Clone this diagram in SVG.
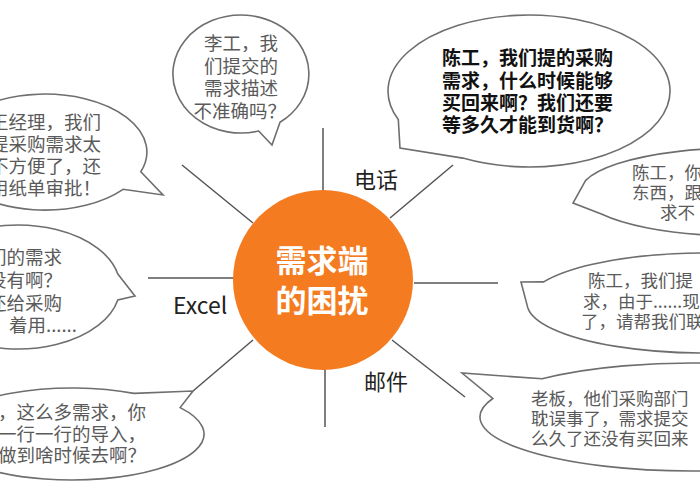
<svg xmlns="http://www.w3.org/2000/svg" width="700" height="500" viewBox="0 0 700 500">
<style>
.bubble{fill:#fff;stroke:#6e6e6e;stroke-width:1.6;stroke-linejoin:miter}
.t{font-family:"Noto Sans CJK SC","Liberation Sans",sans-serif;font-size:18.5px;fill:#5a5a5a}
.ts{font-family:"Noto Sans CJK SC","Liberation Sans",sans-serif;font-size:17.5px;fill:#5a5a5a}
.tb{font-family:"Noto Sans CJK SC","Liberation Sans",sans-serif;font-size:19px;font-weight:bold;fill:#111}
.lbl{font-family:"Noto Sans CJK SC","Liberation Sans",sans-serif;font-size:22px;fill:#222}
.ctr{font-family:"Noto Sans CJK SC","Liberation Sans",sans-serif;font-size:31px;font-weight:bold;fill:#fff}
.con line{stroke:#555;stroke-width:1.5}
</style>
<rect width="700" height="500" fill="#fff"/>
<g id="connectors" class="con">
<line x1="323" y1="128" x2="323" y2="193"/>
<line x1="182" y1="165" x2="253" y2="223"/>
<line x1="453" y1="165" x2="390" y2="218"/>
<line x1="148" y1="278" x2="234" y2="278"/>
<line x1="193" y1="391" x2="253" y2="340"/>
<line x1="325" y1="367" x2="325" y2="427"/>
<line x1="414" y1="283" x2="498" y2="283"/>
<line x1="392" y1="340" x2="465" y2="397"/>
</g>
<g id="center">
<circle cx="323" cy="280" r="90" fill="#F47B20"/>
<text class="ctr" x="322" y="272" text-anchor="middle">需求端</text>
<text class="ctr" x="322" y="312" text-anchor="middle">的困扰</text>
</g>
<g id="label-phone"><text class="lbl" x="354" y="188">电话</text></g>
<g id="label-excel"><text class="lbl" x="173" y="314" style="font-size:23px">Excel</text></g>
<g id="label-mail"><text class="lbl" x="364" y="390">邮件</text></g>
<g id="bubble-li">
<path class="bubble" d="M258.6,131 L272,145 L280,122.3 A68 59 0 1 0 258.6,131 Z"/>
<text class="t" text-anchor="end"><tspan x="278" y="50">李工，我</tspan><tspan x="278" y="72.5">们提交的</tspan><tspan x="278" y="95">需求描述</tspan><tspan x="286" y="117.5">不准确吗？</tspan></text>
</g>
<g id="bubble-wang">
<path class="bubble" d="M140.8,171.8 L163,195 L123.1,189.3 A102 58 0 1 1 140.8,171.8 Z"/>
<text class="t" text-anchor="end"><tspan x="101" y="129">王经理，我们</tspan><tspan x="101" y="151">提采购需求太</tspan><tspan x="101" y="173">不方便了，还</tspan><tspan x="101" y="195">用纸单审批！</tspan></text>
</g>
<g id="bubble-excel1">
<path class="bubble" d="M117.8,274.1 L135,296 L117.8,299.9 A102 62 0 1 1 117.8,274.1 Z"/>
<text class="t"><tspan x="-12" y="264">们的需求</tspan><tspan x="-12" y="287">没有啊？</tspan><tspan x="-12" y="310">还给采购</tspan><tspan x="9" y="332">着用......</tspan></text>
</g>
<g id="bubble-excel2">
<path class="bubble" d="M134,393.4 L193,391 L180.1,407.6 A132 46 0 1 1 134,393.4 Z"/>
<text class="t" text-anchor="end"><tspan x="146" y="419">，这么多需求，你</tspan><tspan x="146" y="440.5">一行一行的导入，</tspan><tspan x="146" y="462">做到啥时候去啊？</tspan></text>
</g>
<g id="bubble-chen1">
<path class="bubble" d="M462.8,158.1 L400,148 L398.3,119.5 A141 76 0 1 1 462.8,158.1 Z"/>
<text class="tb"><tspan x="442" y="65">陈工，我们提的采购</tspan><tspan x="442" y="88">需求，什么时候能够</tspan><tspan x="442" y="110">买回来啊？我们还要</tspan><tspan x="442" y="132">等多久才能到货啊？</tspan></text>
</g>
<g id="bubble-chen2">
<path class="bubble" d="M585.5,180.6 L573,203 L601.4,214 A160 44 0 1 0 585.5,180.6 Z"/>
<text class="ts"><tspan x="632" y="179">陈工，你</tspan><tspan x="632" y="199">东西，跟</tspan><tspan x="660" y="219">求不</tspan></text>
</g>
<g id="bubble-chen3">
<path class="bubble" d="M543.7,281.9 L521,282 L527.7,307.4 A178 50 0 1 0 543.7,281.9 Z"/>
<text class="ts"><tspan x="588" y="287">陈工，我们提</tspan><tspan x="583" y="308">求，由于......现</tspan><tspan x="581" y="328">了，请帮我们联</tspan></text>
</g>
<g id="bubble-boss">
<path class="bubble" d="M542.1,378.8 L462,373 L492.8,398.5 A212 54 0 1 0 542.1,378.8 Z"/>
<text class="ts"><tspan x="531" y="405">老板，他们采购部门</tspan><tspan x="531" y="425">耽误事了，需求提交</tspan><tspan x="531" y="445">么久了还没有买回来</tspan></text>
</g>
</svg>
